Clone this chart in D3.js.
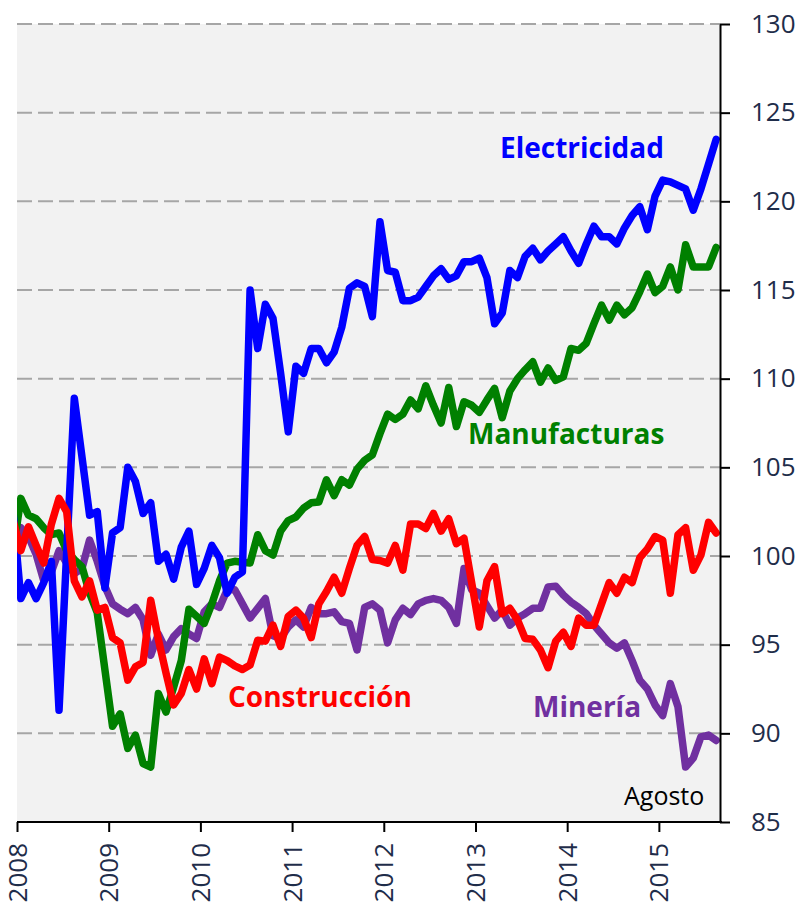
<!DOCTYPE html>
<html>
<head>
<meta charset="utf-8">
<script src="https://cdn.jsdelivr.net/npm/d3@7"></script>
<style>
  body { margin: 0; background: #fff; }
  text { font-family: "Open Sans", "Noto Sans", sans-serif; }
</style>
</head>
<body>
<script>
// indices de produccion, mensual ene 2008 - ago 2015
// el primer valor de cada serie es dic 2007 (queda cortado por el borde del grafico)
var electricidad = [102.4,
  97.6, 98.5, 97.6, 98.5, 99.7, 91.3, 100.2, 108.9, 105.6, 102.3, 102.5, 98.2,
  101.3, 101.6, 105.0, 104.2, 102.4, 103.0, 99.7, 100.1, 98.7, 100.5, 101.4, 98.4,
  99.3, 100.6, 99.9, 97.9, 98.8, 99.1, 115.0, 111.7, 114.2, 113.4, 110.3, 107.0,
  110.7, 110.3, 111.7, 111.7, 110.9, 111.5, 112.9, 115.1, 115.4, 115.2, 113.5, 118.85,
  116.1, 116.0, 114.4, 114.4, 114.6, 115.2, 115.8, 116.2, 115.6, 115.8, 116.6, 116.6,
  116.8, 115.7, 113.1, 113.7, 116.1, 115.7, 116.9, 117.35, 116.7, 117.2, 117.6, 118.0,
  117.2, 116.5, 117.6, 118.6, 118.0, 118.0, 117.6, 118.5, 119.2, 119.7, 118.4, 120.3,
  121.2, 121.1, 120.9, 120.7, 119.5, 120.7, 122.1, 123.5];

var manufacturas = [100.3,
  103.25, 102.3, 102.1, 101.6, 101.2, 101.3, 100.3, 99.8, 99.4, 97.9, 96.8, 93.6,
  90.4, 91.1, 89.15, 89.9, 88.3, 88.1, 92.25, 91.2, 92.6, 94.1, 97.0, 96.6,
  96.2, 97.3, 98.6, 99.6, 99.7, 99.65, 99.6, 101.2, 100.3, 100.05, 101.4, 102.0,
  102.2, 102.7, 103.0, 103.05, 104.3, 103.4, 104.3, 104.0, 104.9, 105.4, 105.7, 106.9,
  108.0, 107.7, 108.0, 108.8, 108.3, 109.6, 108.5, 107.5, 109.5, 107.3, 108.7, 108.5,
  108.1, 108.8, 109.45, 107.8, 109.3, 110.0, 110.5, 110.95, 109.8, 110.6, 109.9, 110.1,
  111.7, 111.6, 112.0, 113.1, 114.15, 113.3, 114.15, 113.6, 114.0, 114.9, 115.9, 114.85,
  115.2, 116.3, 115.0, 117.55, 116.3, 116.3, 116.3, 117.4];

var construccion = [102.0,
  100.3, 101.65, 100.6, 99.6, 101.8, 103.25, 102.5, 98.6, 97.7, 98.6, 96.95, 97.1,
  95.4, 95.1, 93.0, 93.75, 94.0, 97.5, 95.3, 93.4, 91.6, 92.25, 93.6, 92.5,
  94.2, 92.8, 94.3, 94.1, 93.8, 93.6, 93.85, 95.25, 95.2, 96.1, 94.9, 96.6,
  96.95, 96.5, 95.4, 97.3, 98.0, 98.8, 97.9, 99.3, 100.6, 101.1, 99.8, 99.75,
  99.6, 100.6, 99.2, 101.8, 101.8, 101.55, 102.4, 101.4, 102.1, 100.7, 101.0, 98.5,
  96.0, 98.6, 99.4, 96.75, 97.05, 96.4, 95.35, 95.3, 94.7, 93.7, 95.2, 95.7,
  94.9, 96.5, 96.1, 96.1, 97.3, 98.5, 97.9, 98.8, 98.5, 99.9, 100.4, 101.1,
  100.9, 97.9, 101.2, 101.6, 99.2, 100.05, 101.9, 101.3];

var mineria = [100.2,
  101.6, 101.1, 100.1, 98.6, 99.1, 100.3, 99.6, 99.0, 99.3, 100.9, 99.7, 98.3,
  97.3, 97.0, 96.75, 97.1, 96.4, 94.4, 95.6, 94.7, 95.45, 95.9, 95.6, 95.35,
  96.85, 97.3, 97.1, 98.1, 98.1, 97.3, 96.5, 97.05, 97.6, 95.5, 95.35, 96.0,
  96.4, 96.0, 97.1, 96.75, 96.75, 96.85, 96.3, 96.2, 94.7, 97.1, 97.3, 96.95,
  95.1, 96.4, 97.05, 96.7, 97.3, 97.5, 97.6, 97.5, 97.1, 96.2, 99.3, 98.1,
  97.9, 97.2, 96.5, 96.95, 96.1, 96.5, 96.75, 97.05, 97.05, 98.25, 98.3, 97.8,
  97.4, 97.1, 96.75, 96.1, 95.6, 95.1, 94.8, 95.1, 94.1, 93.0, 92.5, 91.6,
  91.0, 92.8, 91.5, 88.1, 88.6, 89.8, 89.9, 89.6];

var years = ['2008', '2009', '2010', '2011', '2012', '2013', '2014', '2015'];
var yTicks = [85, 90, 95, 100, 105, 110, 115, 120, 125, 130];

var series = [
  { name: 'Minería', values: mineria, color: '#7030a0' },
  { name: 'Manufacturas', values: manufacturas, color: '#008000' },
  { name: 'Electricidad', values: electricidad, color: '#0000ff' },
  { name: 'Construcción', values: construccion, color: '#ff0000' }
];

window.onload = function() {
  var width = 801;
  var height = 907;
  var left = 17, right = 720, top = 24, bottom = 822;

  var svg = d3.select('body').append('svg')
              .attr('width', width)
              .attr('height', height);

  var x = d3.scaleLinear().domain([0, 92]).range([left, right]);
  var y = d3.scaleLinear().domain([85, 130]).range([bottom, top]);

  svg.append('rect')
     .attr('x', left).attr('y', top)
     .attr('width', right - left).attr('height', bottom - top)
     .attr('fill', '#f2f2f2');

  // lineas de grilla
  svg.selectAll('.grid').data(yTicks.slice(1))
     .enter().append('line')
     .attr('class', 'grid')
     .attr('x1', left).attr('x2', right)
     .attr('y1', function(d) { return y(d); })
     .attr('y2', function(d) { return y(d); })
     .attr('stroke', '#a6a6a6')
     .attr('stroke-width', 2)
     .attr('stroke-dasharray', '15,6');

  svg.append('clipPath').attr('id', 'clip')
     .append('rect')
     .attr('x', left).attr('y', 0)
     .attr('width', right - left + 4).attr('height', height);

  var line = d3.line()
               .x(function(d, i) { return x(i - 0.5); })
               .y(function(d) { return y(d); });

  svg.append('g').attr('clip-path', 'url(#clip)')
     .selectAll('path').data(series)
     .enter().append('path')
     .attr('d', function(d) { return line(d.values); })
     .attr('fill', 'none')
     .attr('stroke', function(d) { return d.color; })
     .attr('stroke-width', 7.5)
     .attr('stroke-linejoin', 'round')
     .attr('stroke-linecap', 'round');

  // eje x (años)
  var xAxis = d3.axisBottom(x)
                .tickValues(d3.range(0, 96, 12))
                .tickFormat(function(d, i) { return years[i]; })
                .tickSize(10)
                .tickSizeOuter(0);

  var gx = svg.append('g')
              .attr('transform', 'translate(0,' + bottom + ')')
              .call(xAxis);
  gx.select('.domain').attr('stroke', '#000').attr('stroke-width', 2)
    .attr('d', 'M' + left + ',0H' + (right + 2));
  gx.selectAll('.tick line').attr('stroke', '#000').attr('stroke-width', 2);
  gx.selectAll('.tick text')
    .attr('transform', 'rotate(-90)')
    .attr('x', -21).attr('y', 0).attr('dy', '0.35em')
    .attr('text-anchor', 'end')
    .attr('fill', '#1f2d4a')
    .style('font-size', '26px')
    .style('font-family', '"Open Sans", sans-serif');

  // eje y a la derecha
  var yAxis = d3.axisRight(y)
                .tickValues(yTicks)
                .tickSize(10)
                .tickSizeOuter(0);

  var gy = svg.append('g')
              .attr('transform', 'translate(' + right + ',0)')
              .call(yAxis);
  gy.select('.domain').attr('stroke', '#000').attr('stroke-width', 2);
  gy.selectAll('.tick line').attr('stroke', '#000').attr('stroke-width', 2);
  gy.selectAll('.tick text')
    .attr('x', 31)
    .attr('fill', '#1f2d4a')
    .style('font-size', '26px')
    .style('font-family', '"Open Sans", sans-serif');

  // rotulos de series
  var labels = [
    { text: 'Electricidad', x: 500, y: 158, color: '#0000ff' },
    { text: 'Manufacturas', x: 468, y: 444, color: '#008000' },
    { text: 'Construcción', x: 228, y: 707, color: '#ff0000' },
    { text: 'Minería', x: 533, y: 717, color: '#7030a0' }
  ];

  svg.selectAll('.lbl').data(labels)
     .enter().append('text')
     .attr('class', 'lbl')
     .attr('x', function(d) { return d.x; })
     .attr('y', function(d) { return d.y; })
     .attr('fill', function(d) { return d.color; })
     .style('font-size', '28px')
     .style('font-weight', 'bold')
     .text(function(d) { return d.text; });

  svg.append('text')
     .attr('x', 624).attr('y', 805)
     .attr('fill', '#000')
     .style('font-size', '25px')
     .text('Agosto');
};
</script>
</body>
</html>
